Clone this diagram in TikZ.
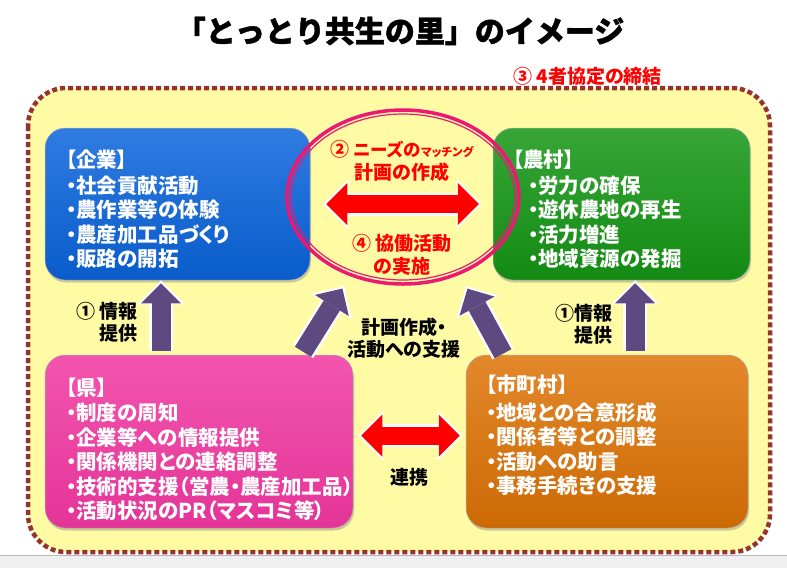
\documentclass[tikz,border=0pt]{standalone}
\usepackage{fontspec}
\setmainfont{Noto Sans CJK JP}
\newfontfamily\propjp{Noto Sans CJK JP}[RawFeature=+palt]
\newfontfamily\heavyjp{Noto Sans CJK JP}[BoldFeatures={FakeBold=1.3}]
\usetikzlibrary{arrows.meta, shapes.geometric, shadows, calc}
\definecolor{bgyellow}{RGB}{255,251,165}
\definecolor{framered}{RGB}{150,50,50}
\definecolor{kblue}{RGB}{10,100,220}
\definecolor{ngreen}{RGB}{20,150,20}
\definecolor{kpink}{RGB}{240,55,160}
\definecolor{sorange}{RGB}{222,115,5}
\definecolor{apurple}{RGB}{94,74,128}
\definecolor{ringpink}{RGB}{235,25,115}

\begin{document}
\begin{tikzpicture}[x=1pt, y=-1pt,
  outerframe/.style={draw=framered, fill=bgyellow, line width=4.5pt,
                     dash pattern=on 5pt off 3pt, rounded corners=38pt},
  areabox/.style={rounded corners=20pt, draw=black!30, line width=0.5pt, inner sep=0pt,
                  drop shadow={opacity=0.4, shadow xshift=1pt, shadow yshift=-2.5pt}},
  boxtitle/.style={anchor=west, inner sep=0pt, text=white,
                   font=\propjp\bfseries\fontsize{20.5}{24}\selectfont},
  boxlist/.style={anchor=west, inner sep=0pt, align=left, text=white,
                  font=\propjp\bfseries\fontsize{20.5}{24.5}\selectfont},
  ring/.style={ellipse, draw=ringpink, inner sep=0pt},
  redlabel/.style={text=red, inner sep=0pt, align=center,
                   font=\propjp\bfseries\fontsize{19}{23}\selectfont},
  blacklabel/.style={inner sep=0pt, font=\propjp\bfseries\fontsize{19}{22}\selectfont},
  purplearrow/.style={draw=apurple, line width=19pt,
                      -{Triangle[width=40pt,length=20pt,line width=0pt]}, shorten >=3pt,
                      preaction={draw=white, line width=24pt,
                      -{Triangle[width=48pt,length=24pt,line width=0pt]}, shorten >=0pt}},
  redarrow/.style={draw=red, line width=18pt,
                   {Triangle[width=42pt,length=21pt,line width=0pt]}-{Triangle[width=42pt,length=21pt,line width=0pt]},
                   shorten >=3pt, shorten <=3pt,
                   preaction={draw=white, line width=23pt,
                   {Triangle[width=50pt,length=25pt,line width=0pt]}-{Triangle[width=50pt,length=25pt,line width=0pt]},
                   shorten >=0pt, shorten <=0pt}},
]
\useasboundingbox (0,0) rectangle (787,568);
\fill[white] (0,0) rectangle (787,568);
\fill[gray!12] (0,555) rectangle (787,568);
\draw[gray!55] (0,555) -- (787,555);

% title and agreement
\node[inner sep=0pt, font=\heavyjp\bfseries\fontsize{30}{34}\selectfont] (title) at (400,31)
  {「とっとり共生の里」のイメージ};
\node[redlabel, anchor=west] (agreement) at (513,76) {③ 4者協定の締結};

% frame
\draw[outerframe] (28,88) rectangle (770,552);

% four parties
\node[areabox, top color=kblue!85!white, bottom color=kblue!92!black,
      minimum width=265pt, minimum height=152pt] (kigyo) at (177.5,204) {};
\node[areabox, top color=ngreen!85!white, bottom color=ngreen!92!black,
      minimum width=257pt, minimum height=152pt] (noson) at (621.5,204) {};
\node[areabox, top color=kpink!85!white, bottom color=kpink!95!black,
      minimum width=308pt, minimum height=173pt] (ken) at (199,441.5) {};
\node[areabox, top color=sorange!85!white, bottom color=sorange!92!black,
      minimum width=282pt, minimum height=173pt] (shichoson) at (607,441.5) {};

\node[boxtitle] (kigyo-title) at (66,160) {【企業】};
\node[boxlist] (kigyo-list) at (66,222)
  {・社会貢献活動\\・農作業等の体験\\・農産加工品づくり\\・販路の開拓};
\node[boxtitle] (noson-title) at (513,160) {【農村】};
\node[boxlist] (noson-list) at (528,222)
  {・労力の確保\\・遊休農地の再生\\・活力増進\\・地域資源の発掘};
\node[boxtitle] (ken-title) at (66,388) {【県】};
\node[boxlist] (ken-list) at (66,462)
  {・制度の周知\\・企業等への情報提供\\・関係機関との連絡調整\\・技術的支援（営農・農産加工品）\\・活動状況のPR（マスコミ等）};
\node[boxtitle] (shichoson-title) at (486,385) {【市町村】};
\node[boxlist] (shichoson-list) at (486,449)
  {・地域との合意形成\\・関係者等との調整\\・活動への助言\\・事務手続きの支援};

% matching ring
\node[ring, line width=3.5pt, minimum width=232pt, minimum height=174pt] (matching) at (403,197) {};
\node[ring, line width=1.2pt, minimum width=224pt, minimum height=166pt] (matching-in) at (matching.center) {};
\node[redlabel] (needs) at (402,160.5)
  {② {\fontsize{17.5}{20}\selectfont ニーズの}{\fontsize{11.5}{14}\selectfont マッチング}\\計画の作成};
\node[redlabel] (cowork) at (402,254.5) {④ 協働活動\\の実施};

% connectors
\draw[redarrow] ([xshift=13pt]kigyo.east) -- ([xshift=-11pt]noson.west);
\draw[redarrow] ([xshift=5pt,yshift=6pt]ken.east) -- ([xshift=-3pt,yshift=6pt]shichoson.west);
\draw[purplearrow] ($(ken.north -| 161,0)+(0,-4)$) -- (kigyo.south -| 161,0);
\draw[purplearrow] ($(shichoson.north -| 635,0)+(0,-4)$) -- (noson.south -| 635,0);
\coordinate (kenbranch) at (344,286);
\coordinate (shibranch) at (466,286);
\draw[purplearrow] ($(ken.north -| 303,0)+(0,-3)$) -- (kenbranch);
\draw[purplearrow] ($(shichoson.north -| 503,0)+(0,-1)$) -- (shibranch);

% labels
\node[blacklabel, anchor=east, align=right] (info-left) at (138,322.5) {① 情報\\提供};
\node[blacklabel, align=center] (support) at (404,338.5) {計画作成・\\活動への支援};
\node[blacklabel, anchor=east, align=right] (info-right) at (613,324) {①情報\\提供};
\node[blacklabel] (cooperate) at (409,477) {連携};
\end{tikzpicture}
\end{document}
